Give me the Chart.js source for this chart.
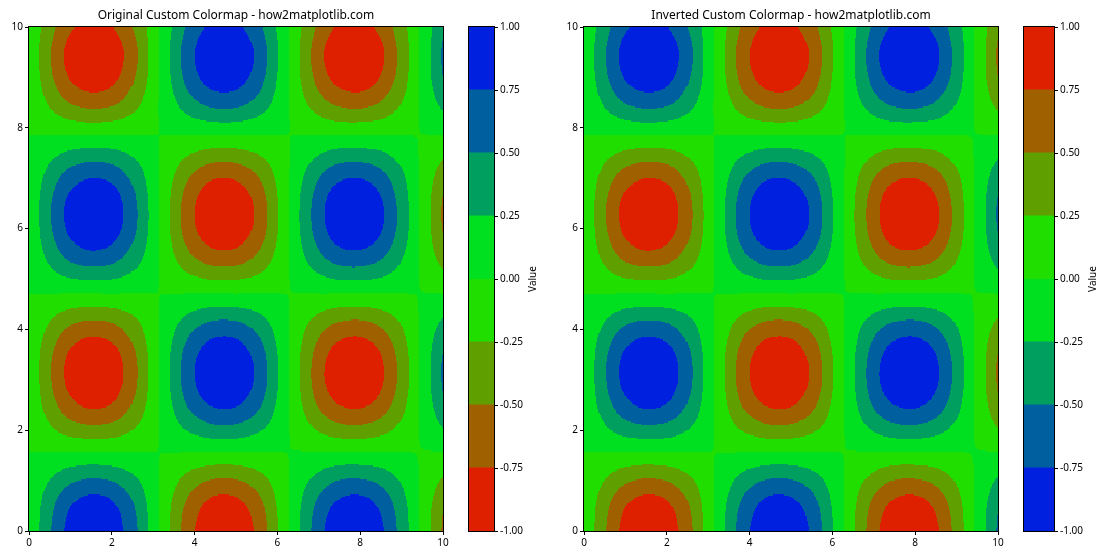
<!DOCTYPE html>
<html lang="en">

<head>
    <meta charset="UTF-8">
    <title>Custom Colormap</title>
    <style>
        body { margin: 0; background: #fff; }
        #wrap { position: relative; width: 1120px; height: 560px; }
        canvas { position: absolute; top: 0; }
    </style>
</head>

<body>
    <div id="wrap">
        <canvas id="plotA" width="460" height="560" style="left:0px"></canvas>
        <canvas id="barA" width="100" height="560" style="left:460px"></canvas>
        <canvas id="plotB" width="460" height="560" style="left:555px"></canvas>
        <canvas id="barB" width="105" height="560" style="left:1015px"></canvas>
    </div>
    <script src="https://cdn.jsdelivr.net/npm/chart.js"></script>
</body>

</html>
<script>
    // grid where the surface was read (x across, y up)
    let xValues = [0, 0.5, 1, 1.5, 2, 2.5, 3, 3.5, 4, 4.5, 5, 5.5, 6, 6.5, 7, 7.5, 8, 8.5, 9, 9.5, 10]
    let yValues = [0, 0.5, 1, 1.5, 2, 2.5, 3, 3.5, 4, 4.5, 5, 5.5, 6, 6.5, 7, 7.5, 8, 8.5, 9, 9.5, 10]
    // one row per y value, bottom row first
    let zValues = [
        [0.00, 0.48, 0.84, 1.00, 0.91, 0.60, 0.14, -0.35, -0.76, -0.98, -0.96, -0.71, -0.28, 0.21, 0.66, 0.94, 0.99, 0.80, 0.41, -0.07, -0.54],
        [0.00, 0.42, 0.74, 0.88, 0.80, 0.53, 0.12, -0.31, -0.66, -0.86, -0.84, -0.62, -0.24, 0.19, 0.58, 0.82, 0.87, 0.70, 0.36, -0.07, -0.48],
        [0.00, 0.26, 0.45, 0.54, 0.49, 0.32, 0.08, -0.19, -0.41, -0.53, -0.52, -0.38, -0.15, 0.12, 0.35, 0.51, 0.53, 0.43, 0.22, -0.04, -0.29],
        [0.00, 0.03, 0.06, 0.07, 0.06, 0.04, 0.01, -0.02, -0.05, -0.07, -0.07, -0.05, -0.02, 0.02, 0.05, 0.07, 0.07, 0.06, 0.03, -0.01, -0.04],
        [0.00, -0.20, -0.35, -0.41, -0.38, -0.25, -0.06, 0.15, 0.31, 0.41, 0.40, 0.29, 0.12, -0.09, -0.27, -0.39, -0.41, -0.33, -0.17, 0.03, 0.23],
        [0.00, -0.38, -0.67, -0.80, -0.73, -0.48, -0.11, 0.28, 0.61, 0.78, 0.77, 0.57, 0.22, -0.17, -0.53, -0.75, -0.79, -0.64, -0.33, 0.06, 0.44],
        [0.00, -0.47, -0.83, -0.99, -0.90, -0.59, -0.14, 0.35, 0.75, 0.97, 0.95, 0.70, 0.28, -0.21, -0.65, -0.93, -0.98, -0.79, -0.41, 0.07, 0.54],
        [0.00, -0.45, -0.79, -0.93, -0.85, -0.56, -0.13, 0.33, 0.71, 0.92, 0.90, 0.66, 0.26, -0.20, -0.61, -0.88, -0.93, -0.75, -0.39, 0.07, 0.51],
        [0.00, -0.31, -0.55, -0.65, -0.59, -0.39, -0.09, 0.23, 0.50, 0.64, 0.63, 0.46, 0.18, -0.14, -0.43, -0.61, -0.65, -0.52, -0.27, 0.05, 0.36],
        [0.00, -0.10, -0.18, -0.21, -0.19, -0.13, -0.03, 0.07, 0.16, 0.21, 0.20, 0.15, 0.06, -0.05, -0.14, -0.20, -0.21, -0.17, -0.09, 0.02, 0.11],
        [0.00, 0.14, 0.24, 0.28, 0.26, 0.17, 0.04, -0.10, -0.21, -0.28, -0.27, -0.20, -0.08, 0.06, 0.19, 0.27, 0.28, 0.23, 0.12, -0.02, -0.15],
        [0.00, 0.34, 0.60, 0.71, 0.64, 0.42, 0.10, -0.25, -0.54, -0.69, -0.68, -0.50, -0.20, 0.15, 0.47, 0.67, 0.70, 0.57, 0.29, -0.05, -0.39],
        [0.00, 0.46, 0.81, 0.96, 0.87, 0.57, 0.14, -0.34, -0.73, -0.94, -0.92, -0.68, -0.27, 0.21, 0.63, 0.90, 0.95, 0.77, 0.40, -0.07, -0.52],
        [0.00, 0.47, 0.82, 0.97, 0.89, 0.58, 0.14, -0.34, -0.74, -0.96, -0.94, -0.69, -0.27, 0.21, 0.64, 0.92, 0.97, 0.78, 0.40, -0.07, -0.53],
        [0.00, 0.36, 0.63, 0.75, 0.69, 0.45, 0.11, -0.26, -0.57, -0.74, -0.72, -0.53, -0.21, 0.16, 0.50, 0.71, 0.75, 0.60, 0.31, -0.06, -0.41],
        [0.00, 0.17, 0.29, 0.35, 0.32, 0.21, 0.05, -0.12, -0.26, -0.34, -0.33, -0.24, -0.10, 0.07, 0.23, 0.33, 0.34, 0.28, 0.14, -0.03, -0.19],
        [0.00, -0.07, -0.12, -0.15, -0.13, -0.09, -0.02, 0.05, 0.11, 0.14, 0.14, 0.10, 0.04, -0.03, -0.10, -0.14, -0.14, -0.12, -0.06, 0.01, 0.08],
        [0.00, -0.29, -0.51, -0.60, -0.55, -0.36, -0.08, 0.21, 0.46, 0.59, 0.58, 0.43, 0.17, -0.13, -0.40, -0.56, -0.60, -0.48, -0.25, 0.05, 0.33],
        [0.00, -0.44, -0.77, -0.91, -0.83, -0.54, -0.13, 0.32, 0.69, 0.89, 0.87, 0.64, 0.25, -0.20, -0.60, -0.85, -0.90, -0.73, -0.38, 0.07, 0.50],
        [0.00, -0.48, -0.84, -0.99, -0.91, -0.60, -0.14, 0.35, 0.75, 0.98, 0.96, 0.70, 0.28, -0.21, -0.66, -0.94, -0.99, -0.80, -0.41, 0.07, 0.54],
        [0.00, -0.40, -0.71, -0.84, -0.76, -0.50, -0.12, 0.29, 0.64, 0.82, 0.80, 0.59, 0.23, -0.18, -0.55, -0.79, -0.83, -0.67, -0.35, 0.06, 0.46]
    ]
    let levels = [-1, -0.75, -0.5, -0.25, 0, 0.25, 0.5, 0.75, 1]
    let axisTicks = [0, 2, 4, 6, 8, 10]
    let originalColors = ["#df2000", "#9f6000", "#609f00", "#20df00", "#00df20", "#009f60", "#00609f", "#0020df"]
    let invertedColors = originalColors.slice().reverse()
    let titles = ["Original Custom Colormap - how2matplotlib.com", "Inverted Custom Colormap - how2matplotlib.com"]

    const FONT = "'Noto Sans', 'DejaVu Sans', sans-serif"
    Chart.defaults.font.family = FONT
    Chart.defaults.color = "#000"

    function levelIndex(z) {
        let k = 0
        while (k < levels.length - 2 && z > levels[k + 1]) k++
        return k
    }

    // value at grid index, extended linearly past the edges
    function zAt(j, i) {
        const nj = zValues.length, ni = zValues[0].length
        if (i < 0) return 2 * zAt(j, 0) - zAt(j, 1)
        if (i >= ni) return 2 * zAt(j, ni - 1) - zAt(j, ni - 2)
        if (j < 0) return 2 * zAt(0, i) - zAt(1, i)
        if (j >= nj) return 2 * zAt(nj - 1, i) - zAt(nj - 2, i)
        return zValues[j][i]
    }

    function cubic(p0, p1, p2, p3, t) {
        return p1 + 0.5 * t * (p2 - p0 + t * (2 * p0 - 5 * p1 + 4 * p2 - p3 + t * (3 * (p1 - p2) + p3 - p0)))
    }

    function smoothZ(j, i, tx, ty) {
        let col = []
        for (let dj = -1; dj <= 2; dj++) {
            col.push(cubic(zAt(j + dj, i - 1), zAt(j + dj, i), zAt(j + dj, i + 1), zAt(j + dj, i + 2), tx))
        }
        return cubic(col[0], col[1], col[2], col[3], ty)
    }

    // filled contours: each grid cell is split into small pieces, coloured by band
    const contourPlugin = {
        id: "contourf",
        beforeDatasetsDraw(chart, args, opts) {
            const { ctx, chartArea } = chart
            const xs = chart.scales.x, ys = chart.scales.y
            const sub = 20
            ctx.save()
            ctx.beginPath()
            ctx.rect(chartArea.left, chartArea.top, chartArea.width, chartArea.height)
            ctx.clip()
            for (let j = 0; j < yValues.length - 1; j++) {
                for (let sj = 0; sj < sub; sj++) {
                    const yv0 = yValues[j] + (yValues[j + 1] - yValues[j]) * sj / sub
                    const yv1 = yValues[j] + (yValues[j + 1] - yValues[j]) * (sj + 1) / sub
                    const pyTop = Math.round(ys.getPixelForValue(yv1))
                    const pyBot = Math.round(ys.getPixelForValue(yv0))
                    if (pyBot <= pyTop) continue
                    const ty = (sj + 0.5) / sub
                    for (let i = 0; i < xValues.length - 1; i++) {
                        for (let si = 0; si < sub; si++) {
                            const xv0 = xValues[i] + (xValues[i + 1] - xValues[i]) * si / sub
                            const xv1 = xValues[i] + (xValues[i + 1] - xValues[i]) * (si + 1) / sub
                            const px0 = Math.round(xs.getPixelForValue(xv0))
                            const px1 = Math.round(xs.getPixelForValue(xv1))
                            if (px1 <= px0) continue
                            const z = smoothZ(j, i, (si + 0.5) / sub, ty)
                            ctx.fillStyle = opts.colors[levelIndex(z)]
                            ctx.fillRect(px0, pyTop, px1 - px0, pyBot - pyTop)
                        }
                    }
                }
            }
            ctx.restore()
        },
        afterDraw(chart) {
            const { ctx, chartArea } = chart
            ctx.save()
            ctx.strokeStyle = "#000"
            ctx.lineWidth = 1
            ctx.strokeRect(Math.round(chartArea.left) - 0.5, Math.round(chartArea.top) - 0.5,
                Math.round(chartArea.width) + 1, Math.round(chartArea.height) + 1)
            ctx.restore()
        }
    }

    const colorbarPlugin = {
        id: "colorbarFrame",
        afterDraw(chart) {
            const { ctx, chartArea } = chart
            ctx.save()
            ctx.strokeStyle = "#000"
            ctx.lineWidth = 1
            ctx.strokeRect(Math.round(chartArea.left) - 0.5, Math.round(chartArea.top) - 0.5,
                Math.round(chartArea.width) + 1, Math.round(chartArea.height) + 1)
            // colorbar label, reading bottom to top
            ctx.translate(chartArea.right + 39, (chartArea.top + chartArea.bottom) / 2)
            ctx.rotate(-Math.PI / 2)
            ctx.fillStyle = "#000"
            ctx.font = "10px " + FONT
            ctx.textAlign = "center"
            ctx.textBaseline = "middle"
            ctx.fillText("Value", 0, 0)
            ctx.restore()
        }
    }

    function makePlot(id, title, colors) {
        return new Chart(document.getElementById(id), {
            type: "scatter",
            data: { datasets: [] },
            options: {
                responsive: false,
                animation: false,
                devicePixelRatio: 1,
                layout: { padding: { left: 0, right: 17, top: 0, bottom: 0 } },
                plugins: {
                    legend: { display: false },
                    tooltip: { enabled: false },
                    title: {
                        display: true,
                        text: title,
                        fullSize: false,
                        font: { size: 12, weight: "normal", lineHeight: 1.2 },
                        padding: { top: 8, bottom: 4.6 }
                    },
                    contourf: { colors: colors }
                },
                scales: {
                    x: {
                        type: "linear", min: 0, max: 10,
                        afterBuildTicks: s => { s.ticks = axisTicks.map(v => ({ value: v })) },
                        afterFit: s => { s.height = 29 },
                        ticks: { font: { size: 10 }, padding: 2, maxRotation: 0 },
                        grid: { display: true, drawOnChartArea: false, drawTicks: true, tickLength: 4, color: "#000" },
                        border: { display: false }
                    },
                    y: {
                        type: "linear", min: 0, max: 10,
                        afterBuildTicks: s => { s.ticks = axisTicks.map(v => ({ value: v })) },
                        afterFit: s => { s.width = 29 },
                        ticks: { font: { size: 10 }, padding: 2 },
                        grid: { display: true, drawOnChartArea: false, drawTicks: true, tickLength: 4, color: "#000" },
                        border: { display: false }
                    }
                }
            },
            plugins: [contourPlugin]
        })
    }

    function makeColorbar(id, colors) {
        let datasets = colors.map((c, k) => ({
            data: [[levels[k], levels[k + 1]]],
            backgroundColor: c,
            borderWidth: 0,
            inflateAmount: 0.6,
            barPercentage: 1,
            categoryPercentage: 1,
            grouped: false
        }))
        return new Chart(document.getElementById(id), {
            type: "bar",
            data: { labels: [""], datasets: datasets },
            options: {
                responsive: false,
                animation: false,
                devicePixelRatio: 1,
                layout: { padding: { left: 9, right: 0, top: 27, bottom: 29 } },
                plugins: { legend: { display: false }, tooltip: { enabled: false } },
                scales: {
                    x: { display: false },
                    y: {
                        position: "right", min: -1, max: 1,
                        afterBuildTicks: s => { s.ticks = levels.map(v => ({ value: v })) },
                        afterFit: s => { s.width = 66 },
                        ticks: { font: { size: 10 }, padding: 2, callback: v => v.toFixed(2) },
                        grid: { display: true, drawOnChartArea: false, drawTicks: true, tickLength: 4, color: "#000" },
                        border: { display: false }
                    }
                }
            },
            plugins: [colorbarPlugin]
        })
    }

    makePlot("plotA", titles[0], originalColors)
    makeColorbar("barA", originalColors)
    makePlot("plotB", titles[1], invertedColors)
    makeColorbar("barB", invertedColors)
</script>
